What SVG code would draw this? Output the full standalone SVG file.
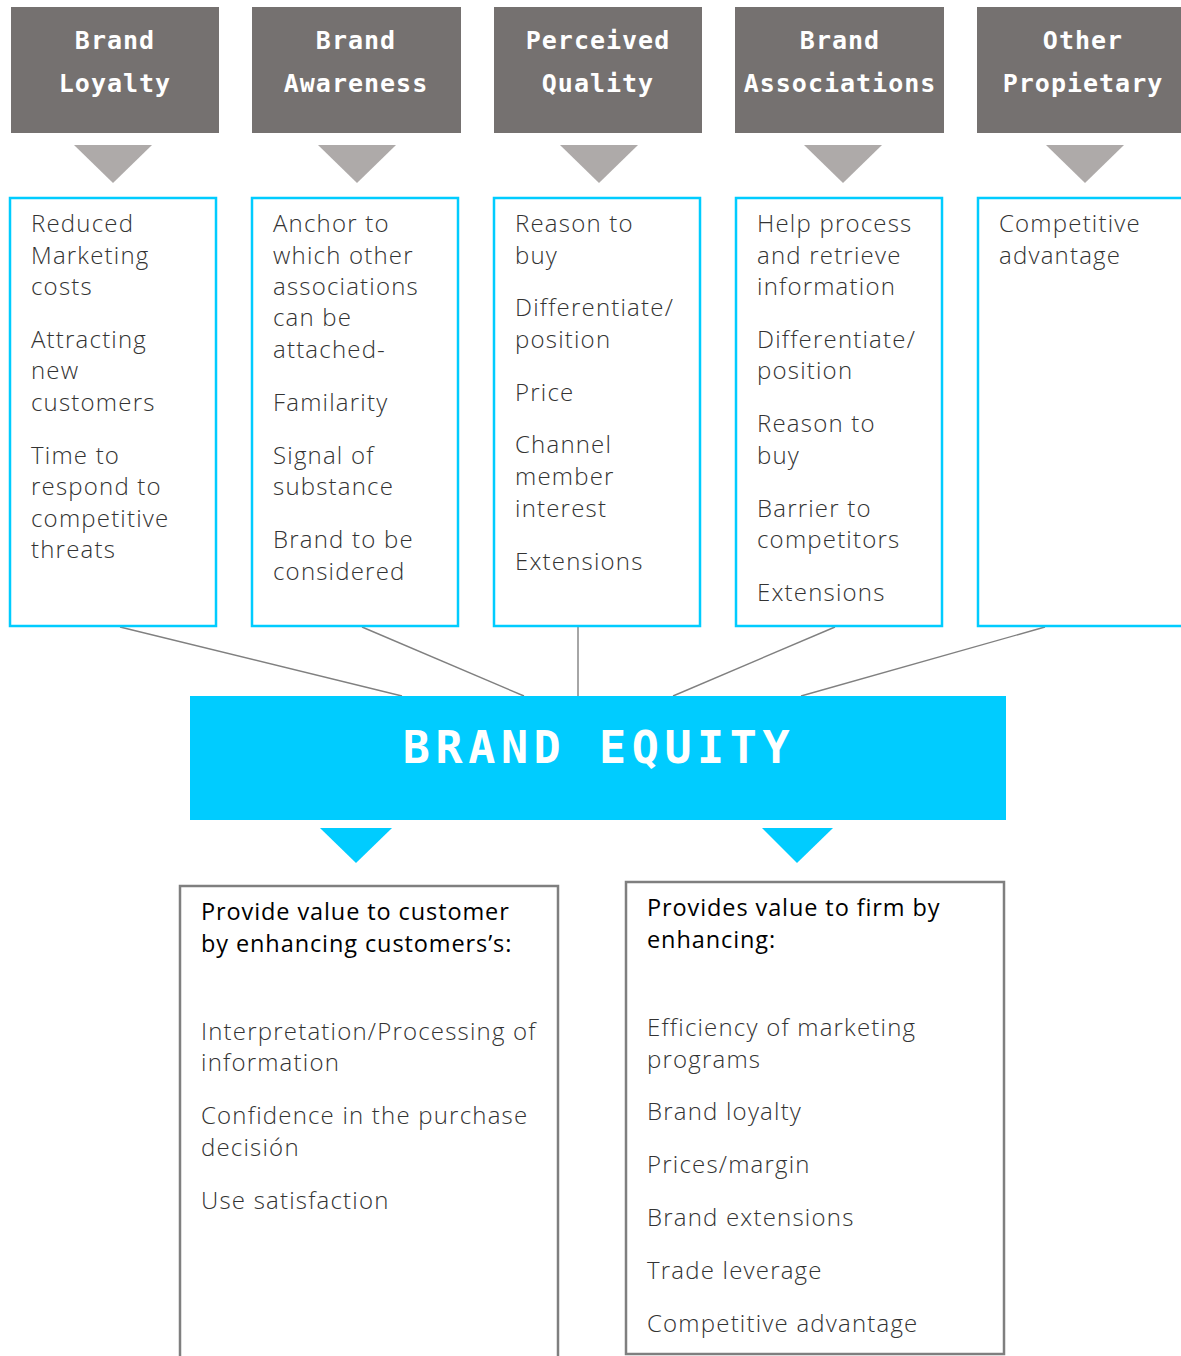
<svg xmlns="http://www.w3.org/2000/svg" width="1181" height="1356" viewBox="0 0 1181 1356">
<style>
.hdr{fill:#757170}
.htxt{fill:#fff;font-family:"DejaVu Sans Mono","Liberation Mono",monospace;font-weight:bold;font-size:25px;letter-spacing:1px;text-anchor:middle}
.tri{fill:#aeaaa9}
.card{fill:#fff;stroke:#00ccff;stroke-width:2.5}
.item{fill:#333;font-family:"Open Sans","Noto Sans",sans-serif;font-weight:300;font-size:24px;letter-spacing:1.2px}
.conn{stroke:#808080;stroke-width:1.4;fill:none}
.eq{fill:#00ccff}
.eqtxt{fill:#fff;font-family:"DejaVu Sans Mono","Liberation Mono",monospace;font-weight:bold;font-size:45px;letter-spacing:5.6px;text-anchor:middle}
.btri{fill:#00ccff}
.out{fill:#fff;stroke:#7f7f7f;stroke-width:2.5}
.otitle{fill:#000;font-family:"Open Sans","Noto Sans",sans-serif;font-size:23.5px;letter-spacing:0.9px}
</style>

<g id="connectors">
<line class="conn" x1="120" y1="627" x2="402" y2="696"/>
<line class="conn" x1="362" y1="627" x2="524" y2="696"/>
<line class="conn" x1="578" y1="627" x2="578" y2="696"/>
<line class="conn" x1="835" y1="627" x2="673" y2="696"/>
<line class="conn" x1="1045" y1="627" x2="801" y2="696"/>
</g>

<g id="n-loyalty">
<rect class="hdr" x="11" y="7" width="208" height="126"/>
<text class="htxt" x="115" y="49">Brand</text>
<text class="htxt" x="115" y="92">Loyalty</text>
<polygon class="tri" points="74,145 152,145 113,183"/>
<rect class="card" x="10" y="198" width="206" height="428"/>
<text class="item" x="31"><tspan x="31" y="232">Reduced</tspan><tspan x="31" y="264">Marketing</tspan><tspan x="31" y="295">costs</tspan><tspan x="31" y="348">Attracting</tspan><tspan x="31" y="379">new</tspan><tspan x="31" y="411">customers</tspan><tspan x="31" y="464">Time to</tspan><tspan x="31" y="495">respond to</tspan><tspan x="31" y="527">competitive</tspan><tspan x="31" y="558">threats</tspan></text>
</g>

<g id="n-awareness">
<rect class="hdr" x="252" y="7" width="209" height="126"/>
<text class="htxt" x="356" y="49">Brand</text>
<text class="htxt" x="356" y="92">Awareness</text>
<polygon class="tri" points="318,145 396,145 357,183"/>
<rect class="card" x="252" y="198" width="206" height="428"/>
<text class="item"><tspan x="273" y="232">Anchor to</tspan><tspan x="273" y="264">which other</tspan><tspan x="273" y="295">associations</tspan><tspan x="273" y="326">can be</tspan><tspan x="273" y="358">attached-</tspan><tspan x="273" y="411">Familarity</tspan><tspan x="273" y="464">Signal of</tspan><tspan x="273" y="495">substance</tspan><tspan x="273" y="548">Brand to be</tspan><tspan x="273" y="580">considered</tspan></text>
</g>

<g id="n-quality">
<rect class="hdr" x="494" y="7" width="208" height="126"/>
<text class="htxt" x="598" y="49">Perceived</text>
<text class="htxt" x="598" y="92">Quality</text>
<polygon class="tri" points="560,145 638,145 599,183"/>
<rect class="card" x="494" y="198" width="206" height="428"/>
<text class="item"><tspan x="515" y="232">Reason to</tspan><tspan x="515" y="264">buy</tspan><tspan x="515" y="316">Differentiate/</tspan><tspan x="515" y="348">position</tspan><tspan x="515" y="401">Price</tspan><tspan x="515" y="453">Channel</tspan><tspan x="515" y="485">member</tspan><tspan x="515" y="517">interest</tspan><tspan x="515" y="570">Extensions</tspan></text>
</g>

<g id="n-associations">
<rect class="hdr" x="735" y="7" width="209" height="126"/>
<text class="htxt" x="840" y="49">Brand</text>
<text class="htxt" x="840" y="92">Associations</text>
<polygon class="tri" points="804,145 882,145 843,183"/>
<rect class="card" x="736" y="198" width="206" height="428"/>
<text class="item"><tspan x="757" y="232">Help process</tspan><tspan x="757" y="264">and retrieve</tspan><tspan x="757" y="295">information</tspan><tspan x="757" y="348">Differentiate/</tspan><tspan x="757" y="379">position</tspan><tspan x="757" y="432">Reason to</tspan><tspan x="757" y="464">buy</tspan><tspan x="757" y="517">Barrier to</tspan><tspan x="757" y="548">competitors</tspan><tspan x="757" y="601">Extensions</tspan></text>
</g>

<g id="n-other">
<rect class="hdr" x="977" y="7" width="210" height="126"/>
<text class="htxt" x="1083" y="49">Other</text>
<text class="htxt" x="1083" y="92">Propietary</text>
<polygon class="tri" points="1046,145 1124,145 1085,183"/>
<rect class="card" x="978" y="198" width="212" height="428"/>
<text class="item"><tspan x="999" y="232">Competitive</tspan><tspan x="999" y="264">advantage</tspan></text>
</g>

<g id="n-equity">
<rect class="eq" x="190" y="696" width="816" height="124"/>
<text class="eqtxt" x="599" y="763">BRAND EQUITY</text>
<polygon class="btri" points="320,828 392,828 356,863"/>
<polygon class="btri" points="762,828 833,828 797,863"/>
</g>

<g id="n-customer">
<rect class="out" x="180" y="886" width="378" height="480"/>
<text class="otitle"><tspan x="201" y="920">Provide value to customer</tspan><tspan x="201" y="952">by enhancing customers’s:</tspan></text>
<text class="item"><tspan x="201" y="1040">Interpretation/Processing of</tspan><tspan x="201" y="1071">information</tspan><tspan x="201" y="1124">Confidence in the purchase</tspan><tspan x="201" y="1156">decisión</tspan><tspan x="201" y="1209">Use satisfaction</tspan></text>
</g>

<g id="n-firm">
<rect class="out" x="626" y="882" width="378" height="472"/>
<text class="otitle"><tspan x="647" y="916">Provides value to firm by</tspan><tspan x="647" y="948">enhancing:</tspan></text>
<text class="item"><tspan x="647" y="1036">Efficiency of marketing</tspan><tspan x="647" y="1068">programs</tspan><tspan x="647" y="1120">Brand loyalty</tspan><tspan x="647" y="1173">Prices/margin</tspan><tspan x="647" y="1226">Brand extensions</tspan><tspan x="647" y="1279">Trade leverage</tspan><tspan x="647" y="1332">Competitive advantage</tspan></text>
</g>
</svg>
